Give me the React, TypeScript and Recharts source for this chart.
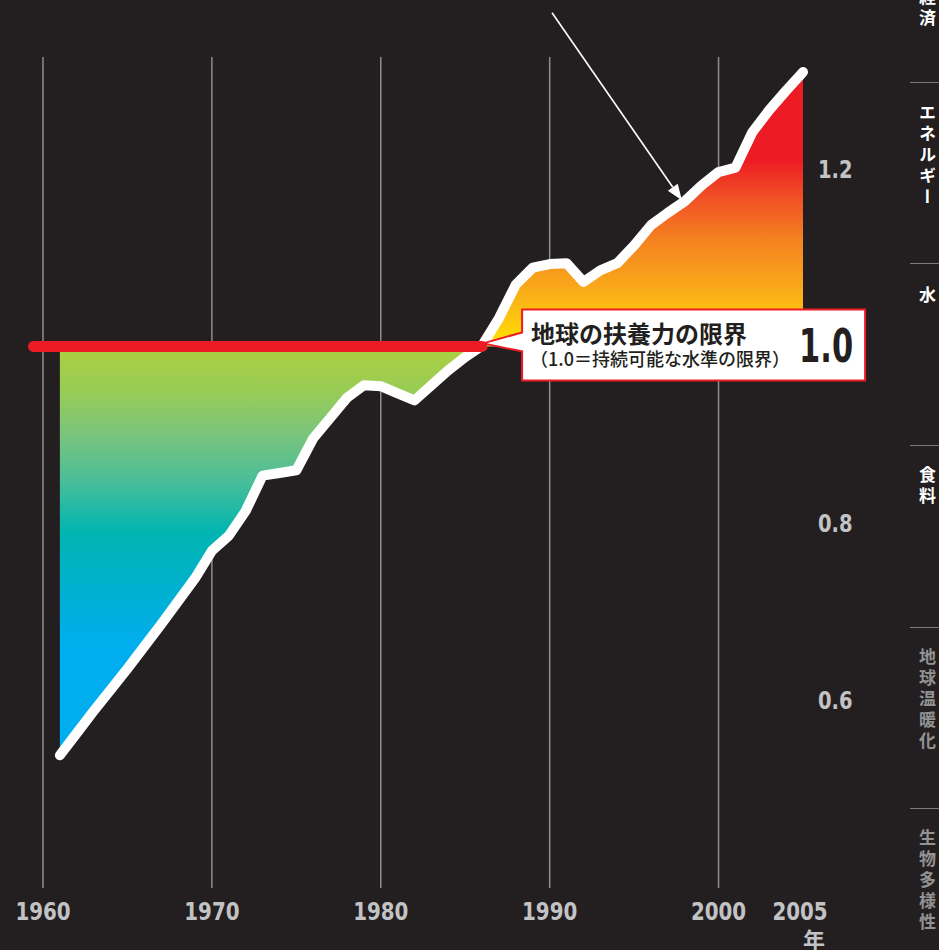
import {
  ComposedChart, Area, Line, XAxis, YAxis, CartesianGrid,
  ReferenceLine, ReferenceDot
} from "recharts";

// ecological footprint (number of Earths used)
const years = [
  1961, 1962, 1963, 1964, 1965, 1966, 1967, 1968, 1969, 1970,
  1971, 1972, 1973, 1974, 1975, 1976, 1977, 1978, 1979, 1980,
  1981, 1982, 1983, 1984, 1985, 1986, 1987, 1988, 1989, 1990,
  1991, 1992, 1993, 1994, 1995, 1996, 1997, 1998, 1999, 2000,
  2001, 2002, 2003, 2004, 2005
];
const footprint = [
  0.538, 0.563, 0.588, 0.612, 0.636, 0.661, 0.686, 0.712, 0.738, 0.769,
  0.786, 0.814, 0.854, 0.857, 0.860, 0.896, 0.919, 0.942, 0.956, 0.955,
  0.947, 0.939, 0.956, 0.973, 0.988, 1.001, 1.032, 1.070, 1.089, 1.093,
  1.094, 1.073, 1.086, 1.094, 1.114, 1.137, 1.151, 1.164, 1.182, 1.197,
  1.202, 1.242, 1.267, 1.289, 1.310
];
const xTicks = [1960, 1970, 1980, 1990, 2000, 2005];
const gridYears = [1960, 1970, 1980, 1990, 2000];
const yTicks = [0.6, 0.8, 1.2];
const limit = 1.0;
const sideLabels = ["経済", "エネルギー", "水", "食料", "地球温暖化", "生物多様性"];

const data = years.map((y, i) => ({ year: y, v: footprint[i] }));

const BG = "#231f20";
const RED = "#ed1c24";
const Y_MIN = 0.388;
const Y_MAX = 1.327;
const TOP = 57;
const BOTTOM = 888;
const NUM_FONT = "'DejaVu Sans Condensed', 'DejaVu Sans', sans-serif";
const JP_FONT = "'Noto Sans CJK JP', sans-serif";
const TICK_COLOR = "#c2c3c5";

const off = (v: number) => (Y_MAX - v) / (Y_MAX - Y_MIN);
// squeeze the bold condensed digits to the narrow width of the original type
const numWidth = (s: string) => s.split("").reduce((w, c) => w + (c === "." ? 7 : 13.8), 0);

const XTick = (p: any) => {
  const { x, y, payload } = p;
  const s = String(payload.value);
  return (
    <g>
      <text x={x - (payload.value === 2005 ? 3 : 0)} y={y + 32} textAnchor="middle" fill={TICK_COLOR}
        fontSize={25} fontWeight={700} fontFamily={NUM_FONT}
        textLength={numWidth(s)} lengthAdjust="spacingAndGlyphs">{s}</text>
      {payload.value === 2005 && (
        <text x={x + 11} y={y + 60} textAnchor="middle" fill={TICK_COLOR} fontSize={22}
          fontWeight={700} fontFamily={JP_FONT}>年</text>
      )}
    </g>
  );
};

const YTick = (p: any) => {
  const { x, y, payload } = p;
  const s = payload.value.toFixed(1);
  return (
    <text x={x + 15} y={y + 9} textAnchor="start" fill={TICK_COLOR} fontSize={25}
      fontWeight={700} fontFamily={NUM_FONT}
      textLength={numWidth(s)} lengthAdjust="spacingAndGlyphs">{s}</text>
  );
};

const Arrow = (p: any) => {
  const { x1, y1, x2, y2 } = p;
  const a = Math.atan2(y2 - y1, x2 - x1);
  const L = 16, W = 6;
  const bx = x2 - L * Math.cos(a), by = y2 - L * Math.sin(a);
  const px = -Math.sin(a) * W, py = Math.cos(a) * W;
  return (
    <g>
      <line x1={x1} y1={y1} x2={bx} y2={by} stroke="#fff" strokeWidth={1.6} />
      <polygon points={`${x2},${y2} ${bx + px},${by + py} ${bx - px},${by - py}`} fill="#fff" />
    </g>
  );
};

const RedBar = (p: any) => (
  <line x1={p.x1} y1={p.y1} x2={p.x2} y2={p.y2} stroke={RED} strokeWidth={11} strokeLinecap="round" />
);

const Callout = (p: any) => {
  const { cx, cy } = p;
  return (
    <g>
      <path
        d={`M${cx + 40},${cy - 37} H${cx + 383} V${cy + 34} H${cx + 40} V${cy + 5} L${cx + 1},${cy - 3} L${cx + 40},${cy - 14} Z`}
        fill="#fff" stroke={RED} strokeWidth={2} />
      <text x={cx + 49} y={cy - 3} fontSize={24} fontWeight={700} fill={BG} fontFamily={JP_FONT}>
        地球の扶養力の限界
      </text>
      <text x={cx + 48} y={cy + 20} fontSize={18} fontWeight={500} fill={BG} fontFamily={JP_FONT}>
        （1.0＝持続可能な水準の限界）
      </text>
      <text x={cx + 317} y={cy + 16} fontSize={47} fontWeight={700} fill={BG} fontFamily={NUM_FONT}
        textLength={54} lengthAdjust="spacingAndGlyphs">1.0</text>
    </g>
  );
};

export default function App() {
  const labelTops = [-12, 104, 286, 466, 648, 829];
  const labelColors = ["#fff", "#fff", "#fff", "#fff", "#929292", "#929292"];
  const separators = [82, 263, 445, 627, 808];

  return (
    <div style={{ position: "absolute", left: 0, top: 0, width: 939, height: 950, background: BG, overflow: "hidden" }}>
      <ComposedChart width={939} height={950} data={data}
        margin={{ top: TOP, right: 36, bottom: 0, left: 43 }}>
        <defs>
          <linearGradient id="fp" gradientUnits="userSpaceOnUse" x1={0} y1={TOP} x2={0} y2={BOTTOM}>
            <stop offset={off(1.30)} stopColor="#ed1c24" />
            <stop offset={off(1.21)} stopColor="#ed1c24" />
            <stop offset={off(1.17)} stopColor="#f04e25" />
            <stop offset={off(1.12)} stopColor="#f58220" />
            <stop offset={off(1.07)} stopColor="#f9a61a" />
            <stop offset={off(1.03)} stopColor="#fdc70f" />
            <stop offset={off(1.0)} stopColor="#ffe500" />
            <stop offset={off(1.0)} stopColor="#acd040" />
            <stop offset={off(0.95)} stopColor="#98cc55" />
            <stop offset={off(0.90)} stopColor="#7ac47c" />
            <stop offset={off(0.85)} stopColor="#4cbe98" />
            <stop offset={off(0.79)} stopColor="#00b5b0" />
            <stop offset={off(0.72)} stopColor="#00b0d2" />
            <stop offset={off(0.66)} stopColor="#00aeef" />
            <stop offset={off(0.50)} stopColor="#00aeef" />
          </linearGradient>
        </defs>
        <CartesianGrid horizontal={false} vertical verticalValues={gridYears}
          stroke="#8d8d8f" strokeWidth={1.5} />
        <XAxis dataKey="year" type="number" domain={[1960, 2005]} ticks={xTicks}
          axisLine={false} tickLine={false} tickSize={0} tickMargin={0} height={62}
          tick={XTick} interval={0} />
        <YAxis orientation="right" type="number" domain={[Y_MIN, Y_MAX]} allowDataOverflow
          ticks={yTicks} axisLine={false} tickLine={false} tickSize={0} tickMargin={0}
          width={100} tick={YTick} interval={0} />
        <Area type="linear" dataKey="v" baseValue={limit} fill="url(#fp)" fillOpacity={1}
          stroke="none" isAnimationActive={false} />
        <Line type="linear" dataKey="v" stroke="#fff" strokeWidth={10} dot={false}
          strokeLinejoin="round" strokeLinecap="round" isAnimationActive={false} />
        <ReferenceLine segment={[{ x: 1959.44, y: limit }, { x: 1986, y: limit }]}
          ifOverflow="visible" shape={RedBar} zIndex={2000} />
        <ReferenceDot x={1986} y={limit} ifOverflow="visible" shape={Callout} zIndex={2100} />
        <ReferenceLine segment={[{ x: 1990.14, y: 1.377 }, { x: 1997.83, y: 1.165 }]}
          ifOverflow="visible" shape={Arrow} zIndex={2000} />
      </ComposedChart>

      {separators.map((y) => (
        <div key={y} style={{ position: "absolute", left: 910, top: y, width: 29, height: 0, borderTop: "1.5px solid #7a7a7a" }} />
      ))}
      {sideLabels.map((t, i) => (
        <div key={t} style={{
          position: "absolute", left: 917, top: labelTops[i], width: 21,
          writingMode: "vertical-rl", fontFamily: JP_FONT, fontWeight: 700,
          fontSize: 17, lineHeight: "21px", letterSpacing: 4, color: labelColors[i]
        }}>{t}</div>
      ))}
    </div>
  );
}
